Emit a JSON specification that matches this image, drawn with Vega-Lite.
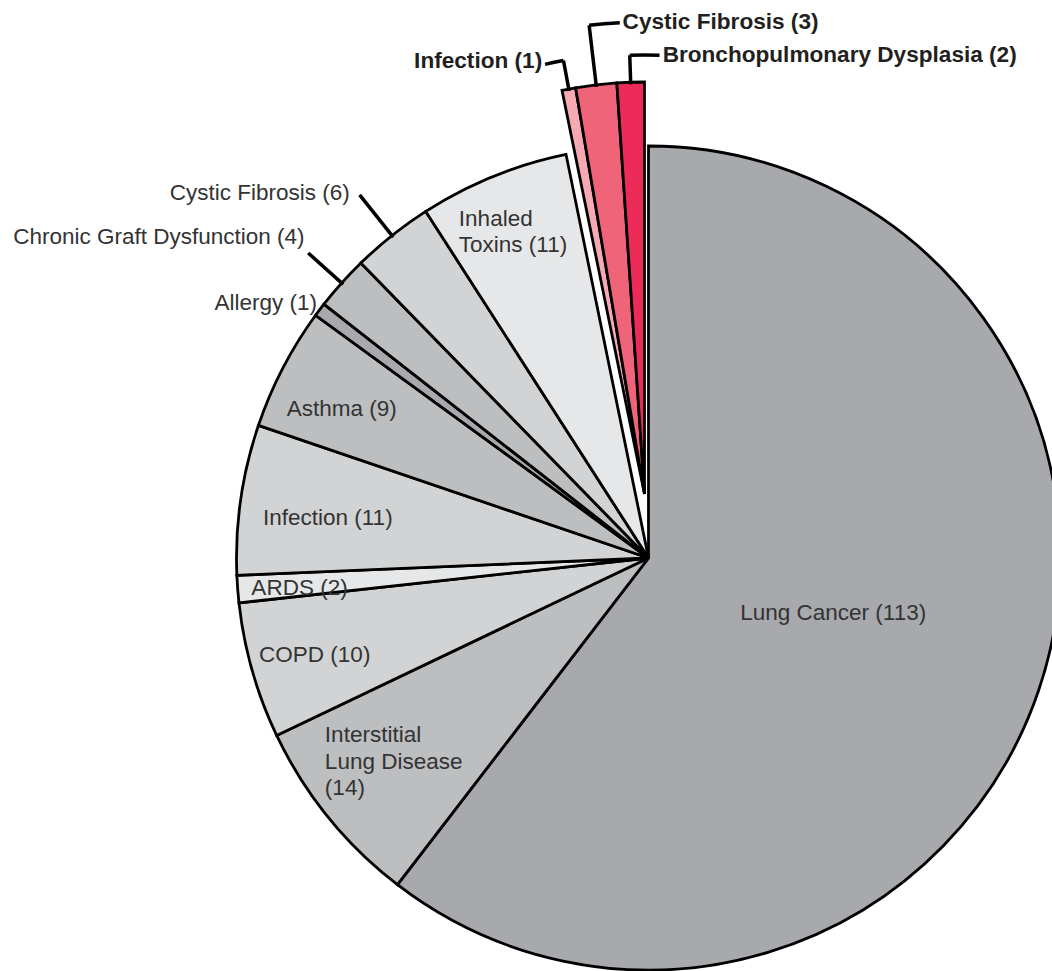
{
  "$schema": "https://vega.github.io/schema/vega-lite/v6.json",
  "width": 807,
  "height": 826,
  "autosize": {"type": "none"},
  "padding": {"left": 245, "top": 145, "right": 0, "bottom": 0},
  "background": "white",
  "config": {"view": {"stroke": null}, "font": "Liberation Sans"},
  "data": {
    "values": [
      {"condition": "Lung Cancer", "count": 113, "cohort": "Gray", "label": "Lung Cancer (113)"},
      {"condition": "Interstitial Lung Disease", "count": 14, "cohort": "Gray", "label": "Interstitial\nLung Disease\n(14)"},
      {"condition": "COPD", "count": 10, "cohort": "Gray", "label": "COPD (10)"},
      {"condition": "ARDS", "count": 2, "cohort": "Gray", "label": "ARDS (2)"},
      {"condition": "Infection", "count": 11, "cohort": "Gray", "label": "Infection (11)"},
      {"condition": "Asthma", "count": 9, "cohort": "Gray", "label": "Asthma (9)"},
      {"condition": "Allergy", "count": 1, "cohort": "Gray", "label": "Allergy (1)"},
      {"condition": "Chronic Graft Dysfunction", "count": 4, "cohort": "Gray", "label": "Chronic Graft Dysfunction (4)"},
      {"condition": "Cystic Fibrosis", "count": 6, "cohort": "Gray", "label": "Cystic Fibrosis (6)"},
      {"condition": "Inhaled Toxins", "count": 11, "cohort": "Gray", "label": "Inhaled\nToxins (11)"},
      {"condition": "Infection", "count": 1, "cohort": "Red", "label": "Infection (1)"},
      {"condition": "Cystic Fibrosis", "count": 3, "cohort": "Red", "label": "Cystic Fibrosis (3)"},
      {"condition": "Bronchopulmonary Dysplasia", "count": 2, "cohort": "Red", "label": "Bronchopulmonary Dysplasia (2)"}
    ]
  },
  "transform": [{"stack": "count", "groupby": [], "as": ["v0", "v1"]}],
  "encoding": {
    "theta": {"field": "v0", "type": "quantitative", "stack": null, "scale": {"domain": [0, 187], "range": [0, 6.283185307179586]}}
  },
  "layer": [
    {
      "transform": [{"filter": {"field": "cohort", "equal": "Gray"}}],
      "mark": {"type": "arc", "outerRadius": 412, "stroke": "#000000", "strokeWidth": 2.8},
      "encoding": {
        "theta2": {"field": "v1"},
        "color": {
          "field": "label", "type": "nominal", "legend": null,
          "scale": {
            "domain": ["Lung Cancer (113)", "Interstitial\nLung Disease\n(14)", "COPD (10)", "ARDS (2)", "Infection (11)", "Asthma (9)", "Allergy (1)", "Chronic Graft Dysfunction (4)", "Cystic Fibrosis (6)", "Inhaled\nToxins (11)", "Infection (1)", "Cystic Fibrosis (3)", "Bronchopulmonary Dysplasia (2)"],
            "range": ["#a8a9ac", "#bcbec0", "#d1d3d4", "#e6e7e8", "#d1d3d4", "#bcbec0", "#a8a9ac", "#bcbec0", "#d1d3d4", "#e6e7e8", "#f6a8b3", "#f06479", "#ed2b59"]
          }
        }
      }
    },
    {
      "transform": [{"filter": {"field": "cohort", "equal": "Red"}}],
      "mark": {"type": "arc", "outerRadius": 412, "stroke": "#000000", "strokeWidth": 2.8, "xOffset": -4, "yOffset": -64},
      "encoding": {
        "theta2": {"field": "v1"},
        "color": {"field": "label", "type": "nominal", "legend": null}
      }
    },
    {
      "transform": [{"filter": {"field": "label", "equal": "Cystic Fibrosis (6)"}}],
      "mark": {"type": "arc", "innerRadius": 410, "outerRadius": 464, "thetaOffset": 0.1008, "theta2Offset": 0.1008, "filled": false, "stroke": "#000000", "strokeWidth": 3.5},
      "encoding": {"theta2": {"field": "v0"}}
    },
    {
      "transform": [{"filter": {"field": "label", "equal": "Chronic Graft Dysfunction (4)"}}],
      "mark": {"type": "arc", "innerRadius": 410, "outerRadius": 457, "thetaOffset": 0.0672, "theta2Offset": 0.0672, "filled": false, "stroke": "#000000", "strokeWidth": 3.5},
      "encoding": {"theta2": {"field": "v0"}}
    },
    {
      "transform": [{"filter": {"field": "label", "equal": "Infection (1)"}}],
      "mark": {"type": "arc", "innerRadius": 410, "outerRadius": 441, "thetaOffset": 0.0168, "theta2Offset": 0.0168, "filled": false, "stroke": "#000000", "strokeWidth": 3.5, "xOffset": -4, "yOffset": -64},
      "encoding": {"theta2": {"field": "v0"}}
    },
    {
      "transform": [{"filter": {"field": "label", "equal": "Infection (1)"}}],
      "mark": {"type": "arc", "innerRadius": 441, "outerRadius": 441, "thetaOffset": 0.0168, "theta2Offset": -0.0258, "filled": false, "stroke": "#000000", "strokeWidth": 3.5, "xOffset": -4, "yOffset": -64},
      "encoding": {"theta2": {"field": "v0"}}
    },
    {
      "transform": [{"filter": {"field": "label", "equal": "Cystic Fibrosis (3)"}}],
      "mark": {"type": "arc", "innerRadius": 410, "outerRadius": 472, "thetaOffset": 0.0504, "theta2Offset": 0.0504, "filled": false, "stroke": "#000000", "strokeWidth": 3.5, "xOffset": -4, "yOffset": -64},
      "encoding": {"theta2": {"field": "v0"}}
    },
    {
      "transform": [{"filter": {"field": "label", "equal": "Cystic Fibrosis (3)"}}],
      "mark": {"type": "arc", "innerRadius": 472, "outerRadius": 472, "thetaOffset": 0.0504, "theta2Offset": 0.1157, "filled": false, "stroke": "#000000", "strokeWidth": 3.5, "xOffset": -4, "yOffset": -64},
      "encoding": {"theta2": {"field": "v0"}}
    },
    {
      "transform": [{"filter": {"field": "label", "equal": "Bronchopulmonary Dysplasia (2)"}}],
      "mark": {"type": "arc", "innerRadius": 410, "outerRadius": 439, "thetaOffset": 0.0336, "theta2Offset": 0.0336, "filled": false, "stroke": "#000000", "strokeWidth": 3.5, "xOffset": -4, "yOffset": -64},
      "encoding": {"theta2": {"field": "v0"}}
    },
    {
      "transform": [{"filter": {"field": "label", "equal": "Bronchopulmonary Dysplasia (2)"}}],
      "mark": {"type": "arc", "innerRadius": 439, "outerRadius": 439, "thetaOffset": 0.0336, "theta2Offset": 0.1014, "filled": false, "stroke": "#000000", "strokeWidth": 3.5, "xOffset": -4, "yOffset": -64},
      "encoding": {"theta2": {"field": "v0"}}
    },
    {
      "transform": [{"filter": {"field": "label", "equal": "Lung Cancer (113)"}}],
      "mark": {"type": "text", "radius": 193, "thetaOffset": 1.8984, "dx": 2, "dy": -7, "align": "center", "baseline": "middle", "fontSize": 22.5, "font": "Liberation Sans", "fill": "#333333"},
      "encoding": {"text": {"field": "label"}}
    },
    {
      "transform": [{"filter": {"field": "label", "equal": "Interstitial\nLung Disease\n(14)"}}],
      "mark": {"type": "text", "radius": 325, "thetaOffset": 0.2352, "dx": -71, "dy": -27, "align": "left", "baseline": "middle", "lineBreak": "\n", "lineHeight": 26.5, "fontSize": 22.5, "font": "Liberation Sans", "fill": "#333333"},
      "encoding": {"text": {"field": "label"}}
    },
    {
      "transform": [{"filter": {"field": "label", "equal": "COPD (10)"}}],
      "mark": {"type": "text", "radius": 347, "thetaOffset": 0.168, "dx": 0, "dy": 2, "align": "center", "baseline": "middle", "fontSize": 22.5, "font": "Liberation Sans", "fill": "#333333"},
      "encoding": {"text": {"field": "label"}}
    },
    {
      "transform": [{"filter": {"field": "label", "equal": "ARDS (2)"}}],
      "mark": {"type": "text", "radius": 350, "thetaOffset": 0.0336, "dx": 0, "dy": 4, "align": "center", "baseline": "middle", "fontSize": 22.5, "font": "Liberation Sans", "fill": "#333333"},
      "encoding": {"text": {"field": "label"}}
    },
    {
      "transform": [{"filter": {"field": "label", "equal": "Infection (11)"}}],
      "mark": {"type": "text", "radius": 324, "thetaOffset": 0.1848, "dx": 0, "dy": 6, "align": "center", "baseline": "middle", "fontSize": 22.5, "font": "Liberation Sans", "fill": "#333333"},
      "encoding": {"text": {"field": "label"}}
    },
    {
      "transform": [{"filter": {"field": "label", "equal": "Asthma (9)"}}],
      "mark": {"type": "text", "radius": 341, "thetaOffset": 0.1512, "dx": -4, "dy": 8, "align": "center", "baseline": "middle", "fontSize": 22.5, "font": "Liberation Sans", "fill": "#333333"},
      "encoding": {"text": {"field": "label"}}
    },
    {
      "transform": [{"filter": {"field": "label", "equal": "Allergy (1)"}}],
      "mark": {"type": "text", "radius": 418, "thetaOffset": 0.0168, "dx": 2, "dy": -3, "align": "right", "baseline": "middle", "fontSize": 22.5, "font": "Liberation Sans", "fill": "#333333"},
      "encoding": {"text": {"field": "label"}}
    },
    {
      "transform": [{"filter": {"field": "label", "equal": "Chronic Graft Dysfunction (4)"}}],
      "mark": {"type": "text", "radius": 470, "thetaOffset": 0.0672, "dx": 6, "dy": -7, "align": "right", "baseline": "middle", "fontSize": 22.5, "font": "Liberation Sans", "fill": "#333333"},
      "encoding": {"text": {"field": "label"}}
    },
    {
      "transform": [{"filter": {"field": "label", "equal": "Cystic Fibrosis (6)"}}],
      "mark": {"type": "text", "radius": 472, "thetaOffset": 0.1008, "dx": -5, "dy": 4, "align": "right", "baseline": "middle", "fontSize": 22.5, "font": "Liberation Sans", "fill": "#333333"},
      "encoding": {"text": {"field": "label"}}
    },
    {
      "transform": [{"filter": {"field": "label", "equal": "Inhaled\nToxins (11)"}}],
      "mark": {"type": "text", "radius": 352, "thetaOffset": 0.1848, "dx": -57, "dy": -13, "align": "left", "baseline": "middle", "lineBreak": "\n", "lineHeight": 26.5, "fontSize": 22.5, "font": "Liberation Sans", "fill": "#333333"},
      "encoding": {"text": {"field": "label"}}
    },
    {
      "transform": [{"filter": {"field": "label", "equal": "Infection (1)"}}],
      "mark": {"type": "text", "radius": 508, "thetaOffset": 0.0168, "dx": -13, "dy": 2, "align": "right", "baseline": "middle", "fontSize": 22.6, "fontWeight": "bold", "font": "Liberation Sans", "fill": "#231f20"},
      "encoding": {"text": {"field": "label"}}
    },
    {
      "transform": [{"filter": {"field": "label", "equal": "Cystic Fibrosis (3)"}}],
      "mark": {"type": "text", "radius": 536, "thetaOffset": 0.0504, "dx": 37, "dy": -4, "align": "left", "baseline": "middle", "fontSize": 22.6, "fontWeight": "bold", "font": "Liberation Sans", "fill": "#231f20"},
      "encoding": {"text": {"field": "label"}}
    },
    {
      "transform": [{"filter": {"field": "label", "equal": "Bronchopulmonary Dysplasia (2)"}}],
      "mark": {"type": "text", "radius": 502, "thetaOffset": 0.0336, "dx": 31, "dy": -1, "align": "left", "baseline": "middle", "fontSize": 22.6, "fontWeight": "bold", "font": "Liberation Sans", "fill": "#231f20"},
      "encoding": {"text": {"field": "label"}}
    }
  ]
}
